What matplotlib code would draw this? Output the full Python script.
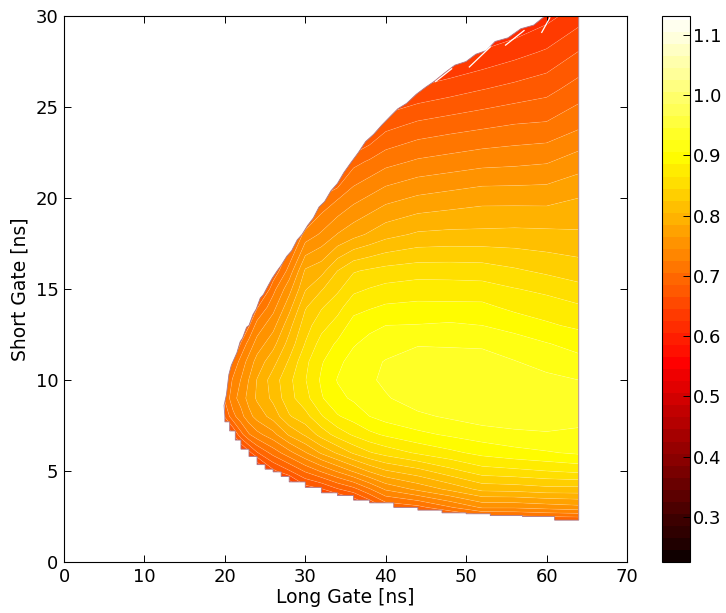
import numpy as np
import matplotlib
matplotlib.use("Agg")
import matplotlib.pyplot as plt
from matplotlib.cm import ScalarMappable
from matplotlib.colors import BoundaryNorm, ListedColormap, Normalize
from matplotlib.patches import Polygon

long_gate = [20, 21, 22, 23, 24, 26, 28, 30, 32, 34, 36, 38, 40, 44, 48, 52, 56, 60, 64]
short_gate = [2, 3, 4, 5, 6, 7, 8, 9, 10, 11, 12, 13, 14, 15, 16, 18, 20, 22, 24, 26, 28, 30]

# one list per long gate, values along short_gate
col_20 = [.50, .52, .54, .56, .58, .64, .70, .72, .71, .66, .62, .59, .56, .54, .53, .52, .51, .50, .50, .49, .49, .48]
col_21 = [.51, .53, .55, .57, .60, .675, .73, .75, .74, .72, .66, .62, .59, .57, .55, .53, .52, .51, .50, .50, .49, .49]
col_22 = [.52, .54, .56, .58, .645, .71, .75, .765, .758, .745, .72, .67, .62, .59, .57, .55, .53, .52, .51, .50, .50, .49]
col_23 = [.53, .55, .57, .60, .67, .735, .77, .785, .778, .765, .745, .715, .66, .62, .59, .56, .54, .53, .52, .51, .50, .50]
col_24 = [.54, .56, .58, .62, .695, .75, .785, .80, .798, .785, .765, .745, .715, .67, .63, .58, .55, .54, .53, .52, .51, .50]
col_26 = [.55, .57, .60, .672, .725, .77, .805, .822, .827, .81, .79, .77, .75, .73, .70, .63, .57, .55, .54, .53, .52, .51]
col_28 = [.55, .57, .62, .695, .75, .80, .835, .85, .852, .84, .825, .81, .79, .77, .745, .70, .64, .57, .55, .54, .53, .52]
col_30 = [.54, .58, .665, .72, .775, .82, .85, .87, .876, .872, .858, .848, .835, .815, .80, .745, .68, .59, .56, .55, .54, .53]
col_32 = [.53, .58, .675, .74, .80, .845, .875, .895, .90, .895, .885, .87, .855, .835, .81, .76, .72, .66, .58, .56, .55, .54]
col_34 = [.53, .62, .695, .76, .82, .865, .895, .912, .918, .912, .90, .885, .87, .853, .837, .778, .735, .67, .61, .58, .56, .55]
col_36 = [.55, .64, .71, .78, .84, .88, .905, .92, .925, .925, .915, .905, .89, .872, .855, .79, .75, .71, .65, .61, .58, .56]
col_38 = [.575, .67, .735, .80, .855, .892, .917, .93, .934, .933, .923, .912, .895, .878, .86, .80, .76, .72, .67, .63, .595, .565]
col_40 = [.60, .70, .76, .815, .865, .90, .925, .935, .941, .938, .93, .917, .90, .883, .864, .81, .77, .73, .69, .65, .61, .57]
col_44 = [.62, .71, .782, .83, .88, .912, .933, .947, .952, .948, .935, .918, .902, .887, .868, .82, .78, .74, .702, .66, .62, .58]
col_48 = [.64, .735, .802, .85, .892, .92, .94, .952, .953, .948, .934, .92, .902, .886, .868, .822, .785, .745, .708, .668, .63, .59]
col_52 = [.66, .76, .823, .868, .903, .927, .947, .955, .953, .947, .933, .917, .902, .885, .867, .822, .79, .75, .713, .676, .64, .60]
col_56 = [.665, .76, .825, .872, .91, .932, .949, .953, .948, .938, .926, .91, .892, .878, .86, .823, .79, .752, .718, .683, .65, .615]
col_60 = [.67, .765, .83, .877, .915, .935, .947, .948, .942, .93, .918, .90, .887, .872, .853, .822, .79, .755, .72, .69, .66, .63]
col_64 = [.67, .77, .83, .882, .92, .932, .945, .945, .937, .923, .91, .893, .88, .863, .847, .82, .797, .767, .733, .706, .678, .648]

# readings above were taken against bands slightly higher than the colour bar shows
reading_offset = 0.012

# outline of the filled region: lower staircase, then jagged upper edge
edge_x = [64, 64, 61, 61, 57, 57, 53, 53, 50, 50, 47, 47, 44, 44, 41, 41, 38, 38, 36, 36,
          34, 34, 32, 32, 30, 30, 28, 28, 27, 27, 26, 26, 25, 25, 24, 24, 23, 23, 22, 22,
          21.3, 21.3, 20.6, 20.6, 20, 20, 19.9, 20.2, 20.5,
          20.8, 21.3, 21.5, 21.9, 22.2, 22.7, 23, 23.5, 23.9, 24.4, 24.8, 25.4, 25.9, 26.5, 27,
          27.7, 28.3, 29, 29.6, 30.3, 31, 31.7, 32.4, 33.2, 34, 34.8, 35.6, 36.6, 37.5,
          38.5, 39.5, 40.6, 41.5, 42.6, 43.8, 45, 46, 47.4, 48.6, 50, 51.2, 52.5, 53.6, 55.2, 56.8,
          58.4, 59.8, 64]
edge_y = [30, 2.3, 2.3, 2.5, 2.5, 2.55, 2.55, 2.65, 2.65, 2.7, 2.7, 2.85, 2.85, 3.0, 3.0, 3.25, 3.25, 3.4, 3.4, 3.65,
          3.65, 3.8, 3.8, 4.1, 4.1, 4.4, 4.4, 4.7, 4.7, 4.95, 4.95, 5.1, 5.1, 5.35, 5.35, 5.8, 5.8, 6.2, 6.2, 6.7,
          6.7, 7.2, 7.2, 7.7, 7.7, 8.0, 8.6, 9.2, 10.3,
          10.8, 11.3, 11.5, 12.1, 12.3, 12.9, 13.0, 13.6, 13.9, 14.5, 14.7, 15.2, 15.6, 16.0, 16.3,
          16.8, 17.1, 17.7, 18.0, 18.5, 18.9, 19.5, 19.8, 20.4, 20.8, 21.4, 21.9, 22.5, 23.1,
          23.5, 24.0, 24.5, 24.9, 25.2, 25.7, 26.1, 26.4, 26.9, 27.3, 27.5, 27.9, 28.1, 28.6, 28.8, 29.3,
          29.5, 30, 30]

# white slits just inside the upper edge
slit_x0 = [46.2, 50.4, 54.9, 59.4]
slit_y0 = [26.4, 27.2, 28.4, 29.1]
slit_x1 = [48.2, 53.0, 57.2, 60.4]
slit_y1 = [27.1, 28.3, 29.2, 29.9]

values = np.array([col_20, col_21, col_22, col_23, col_24, col_26, col_28, col_30, col_32, col_34,
                   col_36, col_38, col_40, col_44, col_48, col_52, col_56, col_60, col_64]).T - reading_offset

fig = plt.figure(figsize=(7.26, 6.13), dpi=100, facecolor="white")
W, H = 726, 613
ax = fig.add_axes([64 / W, 1 - 562 / H, (627 - 64) / W, (562 - 16) / H])
cax = fig.add_axes([662 / W, 1 - 562 / H, (690 - 662) / W, (562 - 16) / H])

levels = np.arange(0.205, 1.15, 0.02)
base = Normalize(0.225, 1.13)
band_mid = 0.5 * (levels[:-1] + levels[1:])
band_cmap = ListedColormap(plt.get_cmap("hot")(base(band_mid)))
band_norm = BoundaryNorm(levels, band_cmap.N)

cf = ax.contourf(long_gate, short_gate, values, levels=levels, cmap=band_cmap,
                 norm=band_norm, antialiased=True)
seams = ax.contour(long_gate, short_gate, values, levels=levels, colors="white",
                   linewidths=0.5, alpha=0.2)
outline = Polygon(np.column_stack([edge_x, edge_y]), closed=True, transform=ax.transData,
                  facecolor="none", edgecolor="#a8788c", linewidth=0.6, zorder=2.5)
ax.add_patch(outline)
cf.set_clip_path(outline)
seams.set_clip_path(outline)
for x0, y0, x1, y1 in zip(slit_x0, slit_y0, slit_x1, slit_y1):
    ax.plot([x0, x1], [y0, y1], color="white", lw=0.9, zorder=3)

ax.set_xlim(0, 70)
ax.set_ylim(0, 30)
ax.set_xticks(range(0, 71, 10))
ax.set_yticks(range(0, 31, 5))
ax.tick_params(direction="in", top=True, right=True, length=5, labelsize=13, width=0.7, pad=4)
ax.set_xlabel("Long Gate [ns]", fontsize=13.5, labelpad=2)
ax.set_ylabel("Short Gate [ns]", fontsize=13.5, labelpad=4)

sm = ScalarMappable(norm=band_norm, cmap=band_cmap)
cb = fig.colorbar(sm, cax=cax, spacing="proportional", drawedges=False)
cb.set_ticks([0.3, 0.4, 0.5, 0.6, 0.7, 0.8, 0.9, 1.0, 1.1])
cb.minorticks_off()
cax.set_ylim(0.225, 1.1315)
cb.ax.tick_params(direction="in", length=5, labelsize=13, width=0.7, pad=2)

fig.savefig("out.png", dpi=100)
